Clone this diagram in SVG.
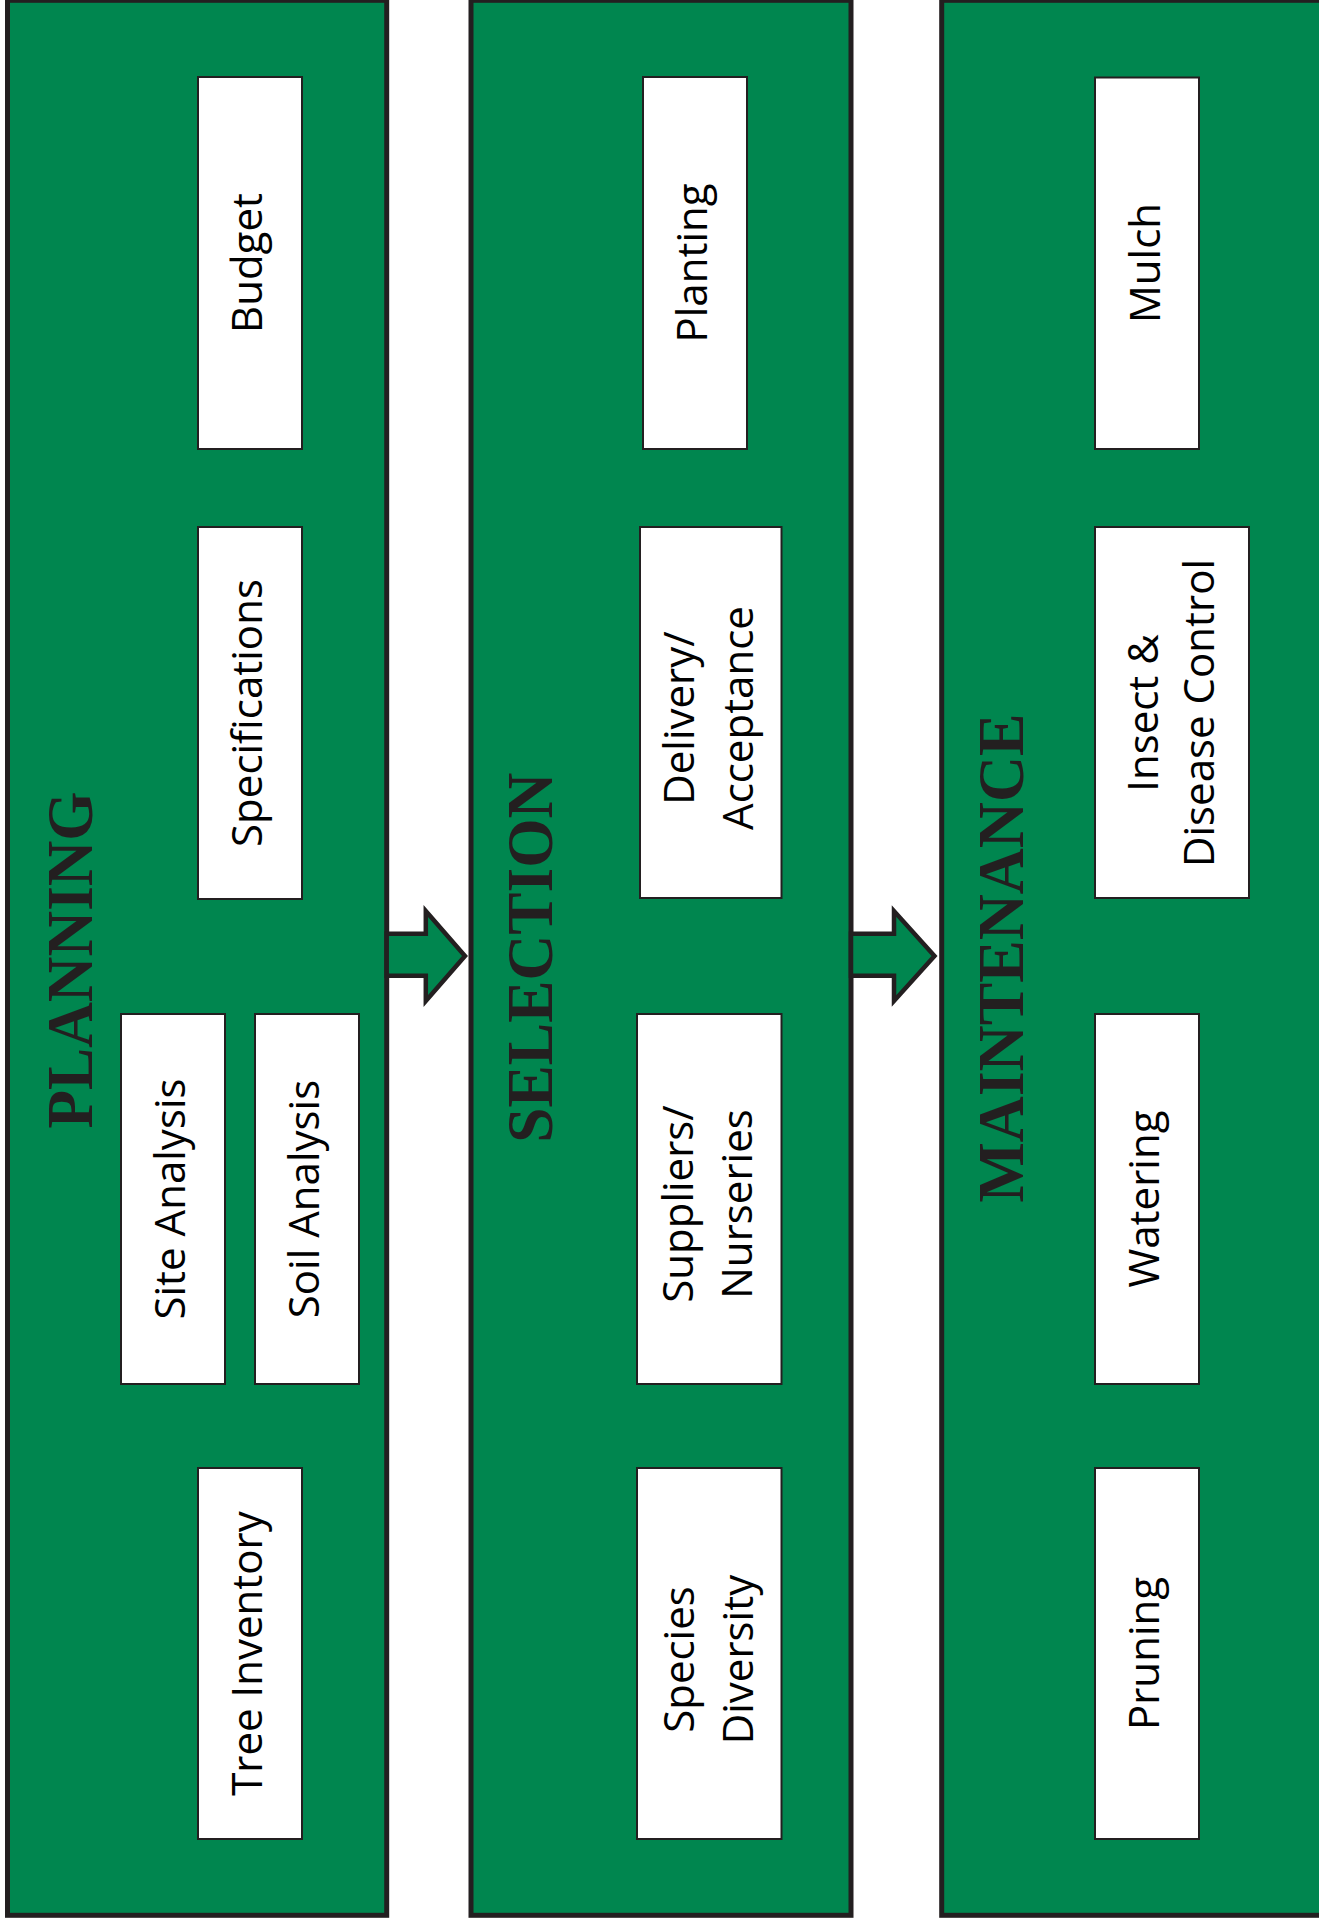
<svg xmlns="http://www.w3.org/2000/svg" width="1319" height="1927" viewBox="0 0 1319 1927">
<style>
.panel{fill:#00864f;stroke:#231f20;stroke-width:5}
.box{fill:#ffffff;stroke:#231f20;stroke-width:2}
.lbl{font-family:"Open Sans","Liberation Sans",sans-serif;font-size:42px;fill:#000;text-anchor:middle}
.ttl{font-family:"Liberation Serif","Times New Roman",serif;font-weight:bold;font-size:66px;fill:#231f20;text-anchor:middle}
.arrow{fill:#00864f;stroke:#231f20;stroke-width:4.5;stroke-linejoin:miter;stroke-miterlimit:6}
</style>
<rect width="1319" height="1927" fill="#ffffff"/>

<g id="panel-planning">
  <rect class="panel" x="7.5" y="0.3" width="379.2" height="1915"/>
  <text class="ttl" transform="translate(91.7,960) rotate(-90)" textLength="337" lengthAdjust="spacingAndGlyphs">PLANNING</text>
</g>
<g id="panel-selection">
  <rect class="panel" x="471" y="0.3" width="380" height="1915"/>
  <text class="ttl" transform="translate(551.7,957.7) rotate(-90)" textLength="370" lengthAdjust="spacingAndGlyphs">SELECTION</text>
</g>
<g id="panel-maintenance">
  <rect class="panel" x="941.7" y="0.3" width="400" height="1915"/>
  <text class="ttl" transform="translate(1023,958) rotate(-90)" textLength="489" lengthAdjust="spacingAndGlyphs">MAINTENANCE</text>
</g>

<g id="connectors">
  <polygon class="arrow" points="386.7,933.7 425.8,933.7 425.8,911 465,956 425.8,1001 425.8,975.8 386.7,975.8"/>
  <polygon class="arrow" points="851,933.7 894,933.7 894,911 934.5,956 894,1001 894,975.8 851,975.8"/>
</g>

<g id="budget">
  <rect class="box" x="198" y="77" width="104" height="372"/>
  <text class="lbl" transform="translate(250,263) rotate(-90)" y="12">Budget</text>
</g>
<g id="specifications">
  <rect class="box" x="198" y="527" width="104" height="372"/>
  <text class="lbl" transform="translate(250,713) rotate(-90)" y="12">Specifications</text>
</g>
<g id="site-analysis">
  <rect class="box" x="121" y="1014" width="104" height="370"/>
  <text class="lbl" transform="translate(173,1199) rotate(-90)" y="12">Site Analysis</text>
</g>
<g id="soil-analysis">
  <rect class="box" x="255" y="1014" width="104" height="370"/>
  <text class="lbl" transform="translate(307,1199) rotate(-90)" y="12">Soil Analysis</text>
</g>
<g id="tree-inventory">
  <rect class="box" x="198" y="1468" width="104" height="371"/>
  <text class="lbl" transform="translate(250,1653.5) rotate(-90)" y="12">Tree Inventory</text>
</g>

<g id="planting">
  <rect class="box" x="643" y="77" width="104" height="372"/>
  <text class="lbl" transform="translate(695,263) rotate(-90)" y="12">Planting</text>
</g>
<g id="delivery-acceptance">
  <rect class="box" x="640" y="527" width="141.5" height="371"/>
  <text class="lbl" transform="translate(710.8,718) rotate(-90)"><tspan x="0" y="-17">Delivery/</tspan><tspan x="0" y="42">Acceptance</tspan></text>
</g>
<g id="suppliers-nurseries">
  <rect class="box" x="637" y="1014" width="144.5" height="370"/>
  <text class="lbl" transform="translate(709.2,1204) rotate(-90)"><tspan x="0" y="-16">Suppliers/</tspan><tspan x="0" y="43">Nurseries</tspan></text>
</g>
<g id="species-diversity">
  <rect class="box" x="637" y="1468" width="144.5" height="371"/>
  <text class="lbl" transform="translate(709.2,1659.5) rotate(-90)"><tspan x="0" y="-15">Species</tspan><tspan x="0" y="43.5">Diversity</tspan></text>
</g>

<g id="mulch">
  <rect class="box" x="1095" y="77.5" width="104" height="371.5"/>
  <text class="lbl" transform="translate(1147,263) rotate(-90)" y="13">Mulch</text>
</g>
<g id="insect-disease-control">
  <rect class="box" x="1095" y="527" width="154" height="371"/>
  <text class="lbl" transform="translate(1172,713) rotate(-90)"><tspan x="0" y="-14">Insect &amp;</tspan><tspan x="0" y="42">Disease Control</tspan></text>
</g>
<g id="watering">
  <rect class="box" x="1095" y="1014" width="104" height="370"/>
  <text class="lbl" transform="translate(1147,1199) rotate(-90)" y="12">Watering</text>
</g>
<g id="pruning">
  <rect class="box" x="1095" y="1468" width="104" height="371"/>
  <text class="lbl" transform="translate(1147,1653.5) rotate(-90)" y="12">Pruning</text>
</g>
</svg>
